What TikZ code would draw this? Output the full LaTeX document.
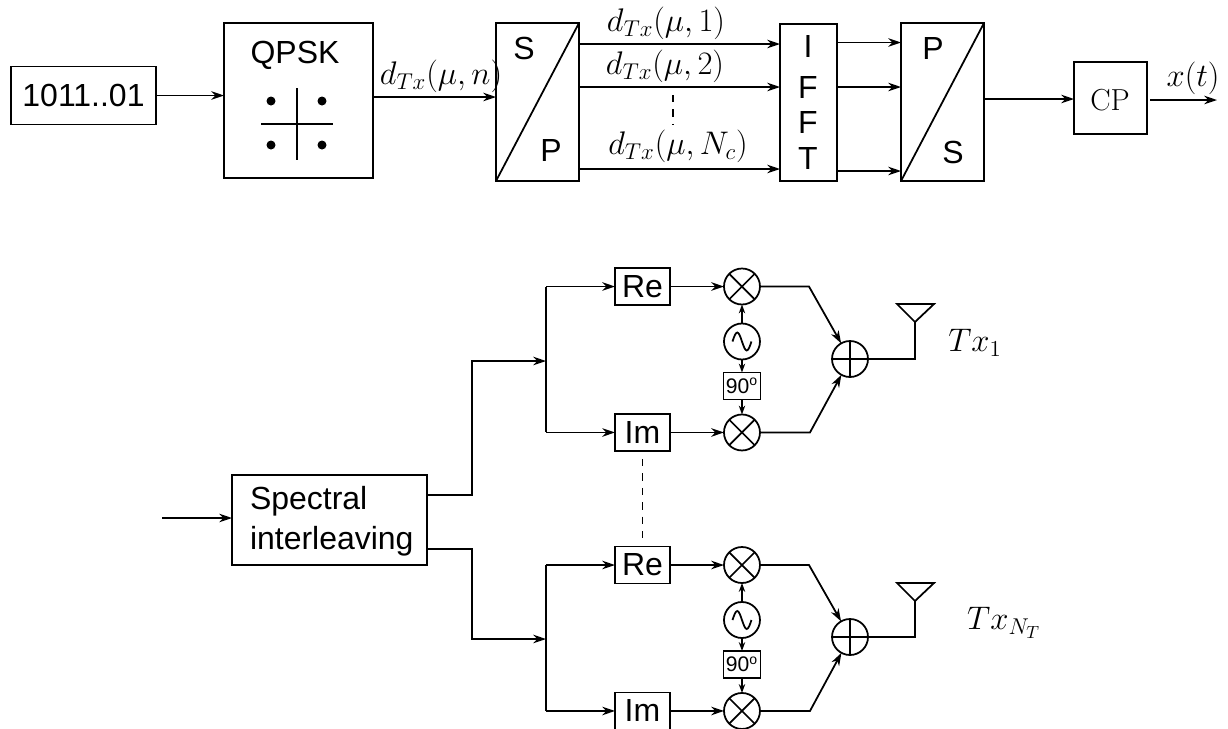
\documentclass[tikz,border=0pt]{standalone}
\usepackage{fix-cm}
\usepackage{fontspec}
\setsansfont{Liberation Sans}
\DeclareMathSizes{18.6}{18.6}{13}{10}
\usepackage{tikz}
\usetikzlibrary{arrows.meta,positioning}

\tikzset{
  block/.style={rectangle, draw, inner sep=0pt, outer sep=0pt, font=\sffamily\fontsize{18.2}{21}\selectfont},
  smallblock/.style={block, minimum width=1.1cm, minimum height=0.74cm},
  phaseblock/.style={rectangle, draw, inner sep=0pt, outer sep=0pt, minimum width=0.74cm, minimum height=0.54cm, font=\sffamily\fontsize{12}{14}\selectfont},
  letter/.style={inner sep=0pt, font=\sffamily\fontsize{18.2}{21}\selectfont},
  mathlabel/.style={inner sep=0pt, font=\fontsize{18.6}{22}\selectfont},
  shorttip/.style={-{Stealth[length=5pt,width=3.6pt,inset=1.5pt]}},
  mixer/.style={circle, draw, inner sep=0pt, outer sep=0pt, minimum size=0.72cm,
    path picture={\draw (path picture bounding box.north west) -- (path picture bounding box.south east)
      (path picture bounding box.north east) -- (path picture bounding box.south west);}},
  adder/.style={circle, draw, inner sep=0pt, outer sep=0pt, minimum size=0.72cm,
    path picture={\draw (path picture bounding box.north) -- (path picture bounding box.south)
      (path picture bounding box.east) -- (path picture bounding box.west);}},
  osc/.style={circle, draw, inner sep=0pt, outer sep=0pt, minimum size=0.72cm,
    path picture={\draw ([xshift=-0.19cm]path picture bounding box.center) sin ++(4.75,-9) cos ++(4.75,9) sin ++(4.75,9) cos ++(4.75,-9);}},
  gapline/.style={dash pattern=on 4.2pt off 4pt}
}

\begin{document}
\begin{tikzpicture}[x=0.02cm, y=-0.02cm, line width=1pt, >={Stealth[length=7.2pt,width=4.8pt,inset=2.2pt]}]
  \useasboundingbox (0,0) rectangle (1228,728);

  % Upper chain
  \node[block, minimum width=2.91cm, minimum height=1.16cm] (bits) at (83.5,95.5) {1011..01};
  \node[block, minimum width=2.98cm, minimum height=3.1cm] (qpsk) at (298.5,100.5) {};
  \node[letter] (qpsktext) at (295,55) {QPSK};
  \coordinate (qc) at (297,124);
  \draw (qc)+(-36,0) -- +(36,0);
  \draw (qc)+(0,-36) -- +(0,36);
  \fill (qc)+(-26,-23) circle[radius=0.09cm];
  \fill (qc)+(25,-23) circle[radius=0.09cm];
  \fill (qc)+(-26,21) circle[radius=0.09cm];
  \fill (qc)+(25,21) circle[radius=0.09cm];

  \node[block, minimum width=1.66cm, minimum height=3.16cm] (sp) at (537.5,102) {};
  \draw (sp.south west) -- (sp.north east);
  \node[letter] (sptop) at (524,48) {S};
  \node[letter] (spbot) at (551,150) {P};

  \node[block, minimum width=1.14cm, minimum height=3.14cm] (ifft) at (808.5,102.5) {};
  \node[letter] (ifftI) at (808,46) {I};
  \node[letter] (ifftF) at (808,87) {F};
  \node[letter] (ifftFF) at (808,122) {F};
  \node[letter] (ifftT) at (808,158) {T};

  \node[block, minimum width=1.66cm, minimum height=3.16cm] (ps) at (942.5,102) {};
  \draw (ps.south west) -- (ps.north east);
  \node[letter] (pstop) at (933,48) {P};
  \node[letter] (psbot) at (953,152) {S};

  \node[block, minimum width=1.46cm, minimum height=1.44cm] (cp) at (1110.5,98) {};
  \node[inner sep=0pt, font=\rmfamily\fontsize{17.3}{19}\selectfont] (cptext) at (1110,100) {CP};

  \coordinate (in1) at (0,44);
  \coordinate (in2) at (0,87);
  \coordinate (in3) at (0,169);
  \coordinate (out1) at (0,42.5);
  \coordinate (out2) at (0,87);
  \coordinate (out3) at (0,171);
  \coordinate (cpout) at (1217,100);
  \coordinate (dota) at (673,95);
  \coordinate (dotb) at (673,125);

  \draw[->] (bits.east) -- (qpsk.west |- bits.east);
  \draw[->] (qpsk.east |- 0,97) -- (sp.west |- 0,97);
  \draw[->] (sp.east |- in1) -- (ifft.west |- in1);
  \draw[->] (sp.east |- in2) -- (ifft.west |- in2);
  \draw[->] (sp.east |- in3) -- (ifft.west |- in3);
  \draw[->] (ifft.east |- out1) -- (ps.west |- out1);
  \draw[->] (ifft.east |- out2) -- (ps.west |- out2);
  \draw[->] (ifft.east |- out3) -- (ps.west |- out3);
  \draw[->] (ps.east |- 0,99) -- (cp.west |- 0,99);
  \draw[->] ([xshift=0.06cm]cp.east |- cpout) -- (cpout);
  \draw[gapline] (dota) -- (dotb);

  \node[mathlabel] (dn) at (441,76) {$d_{Tx}(\mu,n)$};
  \node[mathlabel] (done) at (666,23) {$d_{Tx}(\mu,1)$};
  \node[mathlabel] (dtwo) at (665,66) {$d_{Tx}(\mu,2)$};
  \node[mathlabel] (dnc) at (678,146) {$d_{Tx}(\mu,N_c)$};
  \node[mathlabel] (xt) at (1193,78) {$x(t)$};

  % Interleaver
  \coordinate (start) at (162,518);
  \node[block, minimum width=3.9cm, minimum height=1.8cm] (inter) at (329.5,520) {};
  \node[letter, text width=3.3cm, align=left] (intertext) at (332.5,521) {Spectral\\[2pt]interleaving};
  \draw[->] (start) -- (inter.west |- start);

  % First branch
  \node[smallblock] (re1) at (642.5,286.5) {Re};
  \node[mixer, right=1.08cm of re1] (mixa1) {};
  \node[osc, below=0.38cm of mixa1] (osc1) {};
  \node[phaseblock, below=0.26cm of osc1] (shift1) {90\textsuperscript{o}};
  \node[mixer, below=0.3cm of shift1] (mixb1) {};
  \node[smallblock, left=1.08cm of mixb1] (im1) {Im};
  \node[adder] (add1) at (850,359) {};
  \coordinate (split1) at (546,361);
  \coordinate (ant1) at (915,322);
  \node[mathlabel] (tx1) at (975,343) {$Tx_1$};

  \draw[->] (split1 |- re1) -- (re1);
  \draw[->] (split1 |- im1) -- (im1);
  \draw (split1 |- re1) -- (split1 |- im1);
  \draw[->] (re1) -- (mixa1);
  \draw[->] (im1) -- (mixb1);
  \draw[shorttip] (osc1) -- (mixa1);
  \draw[shorttip] (osc1) -- (shift1);
  \draw[shorttip] (shift1) -- (mixb1);
  \draw[->] (mixa1.east) -- ++(49,0) -- (add1);
  \draw[->] (mixb1.east) -- ++(50,0) -- (add1);
  \draw (add1.east) -| (ant1);
  \draw (ant1) -- ++(-18,-18) -- ++(37,0) -- cycle;

  % Second branch
  \node[smallblock] (re2) at (642.5,565) {Re};
  \node[mixer, right=1.08cm of re2] (mixa2) {};
  \node[osc, below=0.38cm of mixa2] (osc2) {};
  \node[phaseblock, below=0.26cm of osc2] (shift2) {90\textsuperscript{o}};
  \node[mixer, below=0.3cm of shift2] (mixb2) {};
  \node[smallblock, left=1.08cm of mixb2] (im2) {Im};
  \node[adder] (add2) at (850,637) {};
  \coordinate (split2) at (546,639);
  \coordinate (ant2) at (915,601);
  \node[mathlabel] (tx2) at (1004,623) {$Tx_{N_T}$};

  \draw[->] (split2 |- re2) -- (re2);
  \draw[->] (split2 |- im2) -- (im2);
  \draw (split2 |- re2) -- (split2 |- im2);
  \draw[->] (re2) -- (mixa2);
  \draw[->] (im2) -- (mixb2);
  \draw[shorttip] (osc2) -- (mixa2);
  \draw[shorttip] (osc2) -- (shift2);
  \draw[shorttip] (shift2) -- (mixb2);
  \draw[->] (mixa2.east) -- ++(49,0) -- (add2);
  \draw[->] (mixb2.east) -- ++(50,0) -- (add2);
  \draw (add2.east) -| (ant2);
  \draw (ant2) -- ++(-18,-18) -- ++(37,0) -- cycle;

  % Interleaver outputs
  \draw[->] (inter.east |- 0,495) -| (472,361) -- (split1);
  \draw[->] (inter.east |- 0,549) -| (472,639) -- (split2);
  \draw[gapline] ([yshift=-0.16cm]im1.south) -- ([yshift=0.08cm]re2.north);
\end{tikzpicture}
\end{document}
